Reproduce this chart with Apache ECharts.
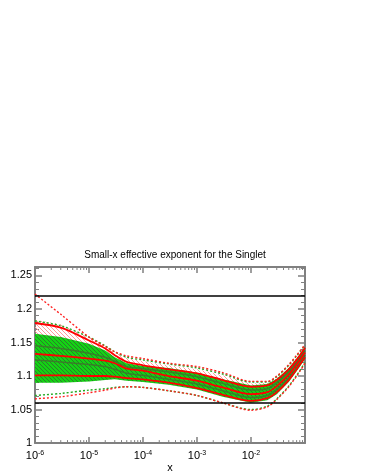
<!DOCTYPE html>
<html>
<head>
<meta charset="utf-8">
<script src="https://cdn.jsdelivr.net/npm/echarts@6/dist/echarts.min.js"></script>
<style>
  html, body { margin: 0; padding: 0; background: #fff; }
  #chart { width: 366px; height: 474px; }
</style>
</head>
<body>
<div id="chart"></div>
<script>
// x grid shared by every curve
const xs = [1e-6, 3e-6, 1e-5, 2e-5, 3e-5, 5e-5, 1e-4, 3e-4, 1e-3, 3e-3, 1e-2, 2e-2, 3e-2, 5e-2, 7e-2, 1e-1];

// red set: hatched band, three solid lines, dashed outer envelope
const redBandUp   = [1.184, 1.177, 1.158, 1.145, 1.136, 1.127, 1.122, 1.116, 1.110, 1.101, 1.089, 1.090, 1.097, 1.114, 1.128, 1.145];
const redBandLow  = [1.101, 1.101, 1.100, 1.100, 1.099, 1.097, 1.095, 1.090, 1.082, 1.072, 1.063, 1.067, 1.076, 1.094, 1.110, 1.128];
const redUp       = [1.179, 1.172, 1.153, 1.141, 1.131, 1.121, 1.116, 1.110, 1.104, 1.094, 1.084, 1.086, 1.094, 1.110, 1.124, 1.142];
const redMid      = [1.133, 1.130, 1.126, 1.123, 1.119, 1.111, 1.108, 1.100, 1.093, 1.083, 1.073, 1.076, 1.085, 1.102, 1.117, 1.135];
const redLow      = [1.101, 1.101, 1.100, 1.100, 1.099, 1.097, 1.095, 1.090, 1.082, 1.072, 1.063, 1.067, 1.076, 1.094, 1.110, 1.128];
const redDashUp   = [1.222, 1.192, 1.158, 1.144, 1.136, 1.130, 1.126, 1.119, 1.114, 1.105, 1.092, 1.092, 1.100, 1.117, 1.131, 1.147];
const redDashLow  = [1.066, 1.069, 1.075, 1.079, 1.082, 1.084, 1.083, 1.078, 1.071, 1.060, 1.049, 1.054, 1.065, 1.084, 1.100, 1.119];

// green set: filled band, two inner lines, dashed outer envelope
const greenBandUp  = [1.163, 1.158, 1.148, 1.138, 1.128, 1.119, 1.115, 1.112, 1.105, 1.095, 1.086, 1.088, 1.096, 1.112, 1.126, 1.143];
const greenBandLow = [1.090, 1.090, 1.092, 1.094, 1.095, 1.093, 1.091, 1.087, 1.080, 1.069, 1.060, 1.064, 1.073, 1.091, 1.107, 1.125];
const greenLine1   = [1.145, 1.141, 1.134, 1.128, 1.122, 1.114, 1.111, 1.106, 1.099, 1.089, 1.079, 1.081, 1.090, 1.106, 1.120, 1.138];
const greenLine2   = [1.124, 1.121, 1.117, 1.114, 1.110, 1.104, 1.101, 1.095, 1.088, 1.078, 1.068, 1.071, 1.080, 1.097, 1.112, 1.131];
const greenDashUp  = [1.182, 1.175, 1.158, 1.145, 1.136, 1.128, 1.124, 1.118, 1.112, 1.103, 1.091, 1.091, 1.099, 1.116, 1.130, 1.146];
const greenDashLow = [1.071, 1.074, 1.079, 1.081, 1.083, 1.084, 1.083, 1.078, 1.071, 1.060, 1.050, 1.055, 1.066, 1.085, 1.101, 1.120];

// horizontal reference lines
const refLines = [1.22, 1.06];

// x tick labels shown (exponents of 10)
const xLabelExps = [-6, -5, -4, -3, -2];

const xMin = 1e-6, xMax = 1e-1;
const yMin = 1, yMax = 1.2625;

// minor ticks of the log axis (2..9 per decade)
const minorTicks = [];
for (let e = -6; e < -1; e++) {
  for (let m = 2; m <= 9; m++) minorTicks.push(m * Math.pow(10, e));
}

const AXIS = '#808080';
const FONT = '"Liberation Sans", Arial, sans-serif';

function hatch(bg, fg, size, lw) {
  const c = document.createElement('canvas');
  c.width = c.height = size;
  const g = c.getContext('2d');
  if (bg) { g.fillStyle = bg; g.fillRect(0, 0, size, size); }
  g.strokeStyle = fg;
  g.lineWidth = lw;
  g.beginPath();
  g.moveTo(0, 0); g.lineTo(size, size);
  g.moveTo(-1, size - 1); g.lineTo(1, size + 1);
  g.moveTo(size - 1, -1); g.lineTo(size + 1, 1);
  g.stroke();
  return c;
}

const pairs = arr => xs.map((x, i) => [x, arr[i]]);

function band(name, up, low, fill) {
  return {
    name, type: 'custom', silent: true, z: 1,
    data: [[xs[0], up[0]]],
    clip: true,
    renderItem: (params, api) => {
      const pts = [];
      xs.forEach((x, i) => pts.push(api.coord([x, up[i]])));
      for (let i = xs.length - 1; i >= 0; i--) pts.push(api.coord([xs[i], low[i]]));
      return { type: 'polygon', shape: { points: pts }, style: { fill: fill, stroke: null } };
    }
  };
}

function line(name, arr, color, width, dashed, z) {
  return {
    name, type: 'line', data: pairs(arr), showSymbol: false, smooth: 0.3, silent: true,
    z: z || 3,
    lineStyle: { color, width, type: dashed ? [2, 2] : 'solid' }
  };
}

const chart = echarts.init(document.getElementById('chart'));

const sup = v => {
  const e = Math.round(Math.log10(v));
  if (xLabelExps.indexOf(e) < 0) return '';
  return '{b|10}{s|' + e + '}';
};

chart.setOption({
  animation: false,
  backgroundColor: '#fff',
  title: {
    text: 'Small-x effective exponent for the Singlet',
    left: 170, top: 245, textAlign: 'center',
    textStyle: { fontFamily: FONT, fontSize: 10, fontWeight: 'normal', color: '#000' }
  },
  grid: { left: 35, right: 61, top: 267, bottom: 23 },
  xAxis: [{
    type: 'log', logBase: 10, min: xMin, max: xMax,
    name: 'x', nameLocation: 'middle', nameGap: 12,
    nameTextStyle: { fontFamily: FONT, fontSize: 11, color: '#000' },
    axisLine: { lineStyle: { color: AXIS, width: 2 } },
    axisTick: { inside: true, length: 6, lineStyle: { color: AXIS, width: 1.5 } },
    axisLabel: {
      margin: 6, formatter: sup,
      rich: {
        b: { fontFamily: FONT, fontSize: 11, color: '#000' },
        s: { fontFamily: FONT, fontSize: 7, color: '#000', padding: [0, 0, 6, 0] }
      }
    },
    splitLine: { show: false }
  }, {
    type: 'log', logBase: 10, min: xMin, max: xMax, position: 'top',
    axisLine: { lineStyle: { color: AXIS, width: 2 } },
    axisTick: { inside: true, length: 6, lineStyle: { color: AXIS, width: 1.5 } },
    axisLabel: { show: false },
    splitLine: { show: false }
  }],
  yAxis: [{
    type: 'value', min: yMin, max: yMax, interval: 0.05,
    axisLine: { show: true, lineStyle: { color: AXIS, width: 2 } },
    axisTick: { show: true, inside: true, length: 7, lineStyle: { color: AXIS, width: 1.5 } },
    minorTick: { show: true, splitNumber: 5, length: 4, lineStyle: { color: AXIS, width: 1 } },
    axisLabel: {
      margin: 3, fontFamily: FONT, fontSize: 11, color: '#000',
      formatter: v => (Math.round(v * 100) / 100).toString()
    },
    splitLine: { show: false }
  }, {
    type: 'value', min: yMin, max: yMax, interval: 0.05, position: 'right',
    axisLine: { show: true, lineStyle: { color: AXIS, width: 2 } },
    axisTick: { show: true, inside: true, length: 7, lineStyle: { color: AXIS, width: 1.5 } },
    minorTick: { show: true, splitNumber: 5, length: 4, lineStyle: { color: AXIS, width: 1 } },
    axisLabel: { show: false },
    splitLine: { show: false }
  }],
  series: [
    band('red band', redBandUp, redBandLow, { image: hatch(null, '#ff9a9a', 4, 1), repeat: 'repeat' }),
    band('green band', greenBandUp, greenBandLow, { image: hatch('#14d214', '#2a7f2a', 4, 1), repeat: 'repeat' }),
    line('green line 1', greenLine1, '#3a7d2a', 1.5),
    line('green line 2', greenLine2, '#3a7d2a', 1.5),
    line('red up', redUp, '#ff0000', 1.8),
    line('red mid', redMid, '#ff0000', 1.8),
    line('red low', redLow, '#ff0000', 1.8),
    line('green dash up', greenDashUp, '#22aa22', 1.4, true),
    line('green dash low', greenDashLow, '#22aa22', 1.4, true),
    line('red dash up', redDashUp, '#ff2020', 1.4, true, 4),
    line('red dash low', redDashLow, '#ff2020', 1.4, true, 4),
    {
      name: 'reference', type: 'line', data: [], silent: true,
      markLine: {
        silent: true, symbol: 'none', label: { show: false },
        lineStyle: { color: '#000', width: 1.5, type: 'solid' },
        data: refLines.map(v => ({ yAxis: v }))
      }
    },
    {
      name: 'minor ticks', type: 'custom', silent: true, z: 10, clip: false,
      data: minorTicks.map(v => [v, yMin]),
      renderItem: (params, api) => {
        const px = api.coord([api.value(0), yMin])[0];
        const cs = params.coordSys;
        const len = 3;
        return {
          type: 'group',
          children: [
            { type: 'line', shape: { x1: px, y1: cs.y + cs.height, x2: px, y2: cs.y + cs.height - len }, style: { stroke: AXIS, lineWidth: 1 } },
            { type: 'line', shape: { x1: px, y1: cs.y, x2: px, y2: cs.y + len }, style: { stroke: AXIS, lineWidth: 1 } }
          ]
        };
      }
    }
  ]
});
</script>
</body>
</html>
